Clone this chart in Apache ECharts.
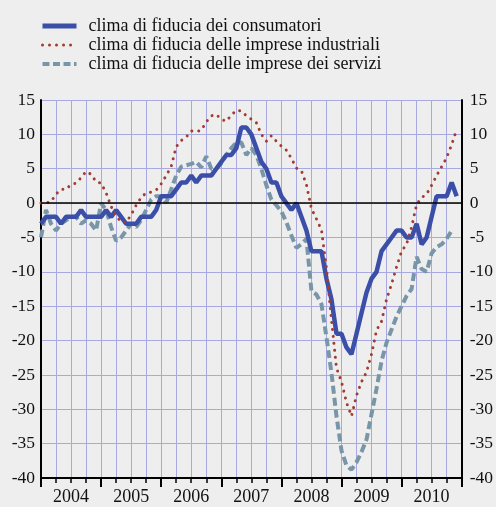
<!DOCTYPE html>
<html>
<head>
<meta charset="utf-8">
<script src="https://cdn.jsdelivr.net/npm/echarts@6/dist/echarts.min.js"></script>
<style>
  html, body { margin: 0; padding: 0; background: #eeeeee; }
  #chart { width: 496px; height: 507px; }
</style>
</head>
<body>
<div id="chart"></div>
<script>
// Monthly series, January 2004 onward (index 0 = Jan 2004)
const anni = ['2004', '2005', '2006', '2007', '2008', '2009', '2010'];

const consumatori = [
  -3, -2, -2, -2, -3, -2, -2, -2, -1, -2, -2, -2,
  -2, -1, -2, -1, -2, -3, -3, -3, -2, -2, -2, -1,
  1, 1, 1, 2, 3, 3, 4, 3, 4, 4, 4, 5,
  6, 7, 7, 8, 11, 11, 10, 8, 6, 5, 3, 3,
  1, 0, -1, 0, -2, -4, -7, -7, -7, -11, -14, -19,
  -19, -21, -22, -19, -16, -13, -11, -10, -7, -6, -5, -4,
  -4, -5, -5, -3, -6, -5, -2, 1, 1, 1, 3, 1
];

const industriali = [
  0, 0, 0.2, 1.3, 2, 2, 2.7, 2.9, 3.7, 4.6, 4.2, 3.1,
  2.9, 1.5, -0.5, -1.8, -2.8, -2.8, -1.7, -0.3, 0.8, 1.5, 1.6, 1.9,
  2.8, 4, 5.3, 8.2, 9.1, 9.6, 10.5, 10.4, 10.6, 11.8, 12.7, 12.9,
  12.2, 11.9, 12.8, 13.5, 13.4, 12.7, 12.2, 11.7, 10, 9, 9.8, 9,
  8.3, 7.7, 6.5, 5.1, 4.7, 2.7, -0.8, -2.3, -3.9, -9.5, -17, -24,
  -26, -29, -31, -28, -26, -24.6, -22, -18.5, -17.2, -14, -11.8, -9.3,
  -7, -6, -3.5, -0.2, 0.8, 1.3, 2.6, 4, 5.3, 6.6, 8.5, 10.7
];

const servizi = [
  -5, -1, -3, -4, -3, -2.5, -2, -2, -3, -2.5, -3, -4,
  0, -1, -3.5, -5.5, -5, -4, -3, -3.5, -2.5, -1, 0.5, 1,
  1, 0, 2, 4, 5.3, 5.5, 5.7, 6, 5.2, 6.8, 5, 5,
  5.8, 7, 8, 8.8, 8.8, 7, 8, 7, 5, 2.6, 0.5, -0.3,
  -1.2, -2.8, -4.7, -6.5, -6, -5.2, -12.8, -13.3, -14.7, -19.5, -24.7, -31,
  -36, -38.2, -38.8, -37.7, -36.2, -34.4, -30.7, -27, -23, -20.3, -18.4, -16.5,
  -15, -13.5, -12.5, -7.8, -9.6, -10, -7.3, -6.4, -6, -5.2, -4
];

const nomi = [
  'clima di fiducia dei consumatori',
  'clima di fiducia delle imprese industriali',
  'clima di fiducia delle imprese dei servizi'
];

const FONT = 'Liberation Serif';
const GRID_COLOR = '#a9a9e2';
const BLU = '#3b4fa8';
const ROSSO = '#a33c30';
const GRIGIO = '#7896a8';

const stileConsumatori = { color: BLU, width: 4.5, type: 'solid' };
const stileIndustriali = { color: ROSSO, width: 3, type: [0.01, 7], cap: 'round' };
const stileServizi = { color: GRIGIO, width: 4, type: [8, 4] };

const toPairs = arr => arr.map((v, i) => [i, v]);

const chart = echarts.init(document.getElementById('chart'), null, { renderer: 'canvas' });

chart.setOption({
  backgroundColor: '#eeeeee',
  animation: false,
  textStyle: { fontFamily: FONT },
  legend: {
    orient: 'vertical',
    left: 35,
    top: 12,
    itemWidth: 34,
    itemHeight: 14,
    itemGap: 1,
    data: [
      { name: nomi[0], lineStyle: { color: BLU, width: 5 } },
      { name: nomi[1], lineStyle: { color: ROSSO, width: 3, type: [0.01, 7], cap: 'round' } },
      { name: nomi[2], lineStyle: { color: GRIGIO, width: 4, type: [7, 3.5] } }
    ],
    itemStyle: { color: 'rgba(0,0,0,0)', borderWidth: 0, opacity: 0 },
    textStyle: { fontFamily: FONT, fontSize: 18, color: '#111', padding: [0, 0, 0, 7] }
  },
  grid: { left: 41, right: 30, top: 100, bottom: 29 },
  xAxis: [
    {
      type: 'value', min: 0, max: 84, interval: 3,
      axisLine: { onZero: false, lineStyle: { color: '#000', width: 2 } },
      axisTick: { length: 5, lineStyle: { color: '#000', width: 1.5 } },
      axisLabel: { show: false },
      splitLine: { show: true, lineStyle: { color: GRID_COLOR, width: 1 } }
    },
    {
      type: 'category', data: anni, position: 'bottom', boundaryGap: true,
      axisLine: { show: false, onZero: false },
      axisTick: { show: true, length: 9, lineStyle: { color: '#000', width: 2 } },
      axisLabel: { fontFamily: FONT, fontSize: 18, color: '#111', margin: 10 },
      splitLine: { show: false }
    }
  ],
  yAxis: [
    {
      type: 'value', min: -40, max: 15, interval: 5,
      axisLine: { show: true, lineStyle: { color: '#000', width: 2 } },
      axisTick: { show: false },
      axisLabel: { fontFamily: FONT, fontSize: 17.5, color: '#111', margin: 6 },
      splitLine: { show: true, lineStyle: { color: GRID_COLOR, width: 1 } }
    },
    {
      type: 'value', min: -40, max: 15, interval: 5, position: 'right',
      axisLine: { show: true, lineStyle: { color: '#000', width: 2 } },
      axisTick: { show: false },
      axisLabel: { fontFamily: FONT, fontSize: 17.5, color: '#111', margin: 8 },
      splitLine: { show: false }
    }
  ],
  series: [
    {
      name: nomi[2], type: 'line', data: toPairs(servizi), symbol: 'none', z: 2,
      lineStyle: stileServizi,
      markLine: {
        silent: true, symbol: 'none', label: { show: false },
        lineStyle: { color: '#000', width: 1.5, type: 'solid' },
        data: [{ yAxis: 0 }]
      }
    },
    {
      name: nomi[0], type: 'line', data: toPairs(consumatori), symbol: 'none', z: 3,
      lineStyle: stileConsumatori
    },
    {
      name: nomi[1], type: 'line', data: toPairs(industriali), symbol: 'none', z: 4,
      lineStyle: stileIndustriali
    }
  ]
});
</script>
</body>
</html>
